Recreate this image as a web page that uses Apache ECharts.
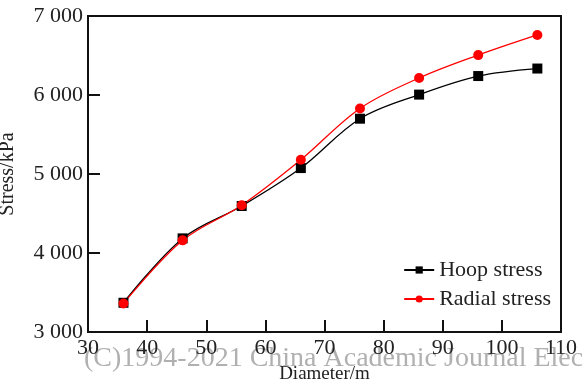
<!DOCTYPE html>
<html>
<head>
<meta charset="utf-8">
<script src="https://cdn.jsdelivr.net/npm/echarts@6/dist/echarts.min.js"></script>
<style>
  html, body { margin: 0; padding: 0; background: #fff; }
  #chart { width: 582px; height: 379px; }
</style>
</head>
<body>
<div id="chart"></div>
<script>
var diameters = [36, 46, 56, 66, 76, 86, 96, 106];
var hoopStress = [3370, 4185, 4595, 5075, 5700, 6005, 6240, 6335];
var radialStress = [3360, 4160, 4605, 5180, 5830, 6215, 6505, 6760];

var serif = '"Liberation Serif", "DejaVu Serif", serif';

var chart = echarts.init(document.getElementById('chart'));
var option = {
    backgroundColor: '#fff',
    animation: false,
    textStyle: { fontFamily: serif },
    grid: {
        left: 88, top: 16, right: 21, bottom: 47,
        outerBoundsMode: 'none',
        containLabel: false,
        show: true, borderColor: '#111', borderWidth: 2, backgroundColor: 'transparent'
    },
    legend: {
        right: 26,
        top: 254,
        orient: 'vertical',
        itemWidth: 30,
        itemHeight: 9,
        itemGap: 7,
        textStyle: { fontFamily: serif, fontSize: 22, color: '#222' },
        data: ['Hoop stress', 'Radial stress']
    },
    xAxis: {
        type: 'value',
        min: 30,
        max: 110,
        interval: 10,
        name: 'Diameter/m',
        nameLocation: 'middle',
        nameGap: 33,
        nameTextStyle: { fontFamily: serif, fontSize: 19, color: '#222' },
        axisLine: { lineStyle: { color: '#111', width: 2 } },
        axisTick: { inside: true, length: 12, lineStyle: { color: '#111', width: 2 } },
        axisLabel: { fontFamily: serif, fontSize: 22, color: '#222', margin: 5 },
        splitLine: { show: false }
    },
    yAxis: {
        type: 'value',
        min: 3000,
        max: 7000,
        interval: 1000,
        name: 'Stress/kPa',
        nameLocation: 'middle',
        nameGap: 70,
        nameTextStyle: { fontFamily: serif, fontSize: 20, color: '#222' },
        axisLine: { lineStyle: { color: '#111', width: 2 } },
        axisTick: { inside: true, length: 12, lineStyle: { color: '#111', width: 2 } },
        axisLabel: {
            fontFamily: serif, fontSize: 22, color: '#222', margin: 5,
            formatter: function (v) {
                return String(v).replace(/\B(?=(\d{3})+(?!\d))/g, ' ');
            }
        },
        splitLine: { show: false }
    },
    series: [{
        name: 'Hoop stress',
        type: 'line',
        smooth: 0.35,
        symbol: 'rect',
        symbolSize: 10,
        color: '#000',
        lineStyle: { width: 1.3, color: '#000' },
        data: diameters.map(function (d, i) { return [d, hoopStress[i]]; })
    }, {
        name: 'Radial stress',
        type: 'line',
        smooth: 0.35,
        symbol: 'circle',
        symbolSize: 10,
        color: '#ff0000',
        lineStyle: { width: 1.3, color: '#ff0000' },
        data: diameters.map(function (d, i) { return [d, radialStress[i]]; })
    }],
    graphic: [{
        type: 'text',
        left: 84,
        top: 345,
        silent: true,
        style: {
            text: '(C)1994-2021 China Academic Journal Electronic Publishing House',
            font: '28px ' + serif,
            fill: 'rgba(150,150,150,0.75)'
        }
    }]
};
chart.setOption(option);
</script>
</body>
</html>
